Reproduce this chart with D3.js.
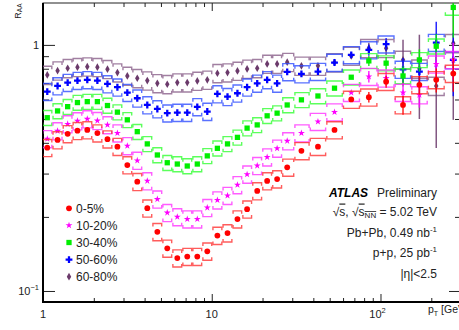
<!DOCTYPE html>
<html>
<head>
<meta charset="utf-8">
<script src="https://cdn.jsdelivr.net/npm/d3@7"></script>
<style>
    body { margin: 0; background: #fff; }
    svg { display: block; font-family: "Liberation Sans", Arial, sans-serif; }
</style>
</head>
<body>
<div id="chart"></div>
<script>
// bin centres in pT [GeV]
const pt = [1.06, 1.22, 1.40, 1.60, 1.83, 2.10, 2.41, 2.76, 3.16, 3.62, 4.15, 4.76, 5.45, 6.25, 7.16,
    8.21, 9.41, 10.8, 12.4, 14.2, 16.2, 18.6, 21.3, 24.4, 28.0, 34.0, 42.6, 53.4, 67.1, 85.3,
    108, 136, 170, 214, 270];

const centralities = ["0-5%", "10-20%", "30-40%", "50-60%", "60-80%"];

const raa0_5 = [0.382, 0.411, 0.435, 0.448, 0.451, 0.438, 0.414, 0.386, 0.325, 0.278, 0.217, 0.174, 0.149, 0.136, 0.138,
    0.138, 0.145, 0.168, 0.172, 0.196, 0.215, 0.255, 0.280, 0.285, 0.318, 0.371, 0.386, 0.451, 0.600, 0.613,
    0.709, 0.570, 0.688, 0.721, 0.765];
const raa10_20 = [0.415, 0.447, 0.477, 0.491, 0.500, 0.492, 0.473, 0.438, 0.389, 0.339, 0.280, 0.236, 0.208, 0.200, 0.196,
    0.196, 0.218, 0.234, 0.244, 0.270, 0.298, 0.323, 0.350, 0.380, 0.407, 0.438, 0.488, 0.533, 0.640, 0.743,
    0.732, 0.640, 0.626, 0.835, 0.870];
const raa30_40 = [0.506, 0.539, 0.561, 0.583, 0.588, 0.588, 0.567, 0.533, 0.496, 0.444, 0.396, 0.357, 0.332, 0.328, 0.322,
    0.328, 0.354, 0.380, 0.396, 0.421, 0.459, 0.473, 0.515, 0.528, 0.570, 0.598, 0.620, 0.667, 0.739, 0.861,
    0.843, 0.748, 0.869, 0.988, 1.42];
const raa50_60 = [0.646, 0.681, 0.703, 0.716, 0.721, 0.716, 0.694, 0.673, 0.640, 0.607, 0.570, 0.549, 0.528, 0.531, 0.531,
    0.560, 0.536, 0.632, 0.616, 0.636, 0.673, 0.698, 0.721, 0.698, 0.777, 0.762, 0.779, 0.848, 0.911, 0.954,
    1.007, 0.795, 0.779, 1.022, 0.869];
const raa60_80 = [0.755, 0.786, 0.804, 0.812, 0.816, 0.812, 0.797, 0.772, 0.748, 0.732, 0.716, 0.698, 0.692, 0.703, 0.703,
    0.714, 0.721, 0.767, 0.772, 0.784, 0.799, 0.804, 0.837, 0.837, 0.851, 0.822, 0.822, 0.848, 0.902, 0.970,
    0.970, 0.869, 0.800, 0.681, 1.016];

// relative systematic uncertainty per centrality
const sysFrac = [0.08, 0.08, 0.07, 0.08, 0.085];

// statistical errors (absolute) of the last six bins, the only ones bigger than a marker
const stat0_5 = [0.03, 0.04, 0.05, 0.06, 0.08, 0.12];
const stat10_20 = [0.04, 0.05, 0.06, 0.07, 0.10, 0.15];
const stat30_40 = [0.04, 0.05, 0.07, 0.09, 0.12, 0.35];
const stat50_60 = [0.05, 0.06, 0.09, 0.10, 0.22, 0.25];
const stat60_80 = [0.05, 0.06, 0.18, 0.30, 0.30, 0.52];

const xMajor = [1, 10, 100];
const xMinor = [2, 3, 4, 5, 6, 7, 8, 9, 20, 30, 40, 50, 60, 70, 80, 90, 200, 300];
const yMajor = [0.1, 1];
const yMinor = [0.2, 0.3, 0.4, 0.5, 0.6, 0.7, 0.8, 0.9];

const frame = { width: 459, height: 330, left: 43, right: 461, top: 3, bottom: 302 };

const x = d3.scaleLog().domain([1, 300]).range([frame.left, frame.right]);
const y = d3.scaleLog().domain([0.0902, 1.48]).range([frame.bottom, frame.top]);

const svg = d3.select("#chart")
    .append("svg")
    .attr("width", frame.width)
    .attr("height", frame.height);

svg.append("defs").append("clipPath")
    .attr("id", "plot-clip")
    .append("rect")
    .attr("x", frame.left)
    .attr("y", frame.top)
    .attr("width", frame.right - frame.left)
    .attr("height", frame.bottom - frame.top);

function drawAxes() {
    const tickColor = "#222";

    function styleAxis(g) {
        g.select(".domain").remove();
        g.selectAll("line").attr("stroke", tickColor);
        g.selectAll("text").remove();
    }

    svg.append("g").attr("transform", "translate(0," + frame.bottom + ")")
        .call(d3.axisBottom(x).tickValues(xMajor).tickSize(-8)).call(styleAxis);
    svg.append("g").attr("transform", "translate(0," + frame.bottom + ")")
        .call(d3.axisBottom(x).tickValues(xMinor).tickSize(-4)).call(styleAxis);
    svg.append("g").attr("transform", "translate(0," + frame.top + ")")
        .call(d3.axisTop(x).tickValues(xMajor).tickSize(-8)).call(styleAxis);
    svg.append("g").attr("transform", "translate(0," + frame.top + ")")
        .call(d3.axisTop(x).tickValues(xMinor).tickSize(-4)).call(styleAxis);

    svg.append("g").attr("transform", "translate(" + frame.left + ",0)")
        .call(d3.axisLeft(y).tickValues(yMajor).tickSize(-12)).call(styleAxis);
    svg.append("g").attr("transform", "translate(" + frame.left + ",0)")
        .call(d3.axisLeft(y).tickValues(yMinor).tickSize(-6)).call(styleAxis);
    svg.append("g").attr("transform", "translate(" + frame.right + ",0)")
        .call(d3.axisRight(y).tickValues(yMajor).tickSize(-12)).call(styleAxis);
    svg.append("g").attr("transform", "translate(" + frame.right + ",0)")
        .call(d3.axisRight(y).tickValues(yMinor).tickSize(-6)).call(styleAxis);

    // frame
    svg.append("rect")
        .attr("x", frame.left).attr("y", frame.top)
        .attr("width", frame.right - frame.left).attr("height", frame.bottom - frame.top)
        .attr("fill", "none").attr("stroke", tickColor).attr("stroke-width", 1);
    svg.append("path")
        .attr("d", "M" + frame.left + "," + frame.top + "V" + frame.bottom + "H" + frame.right)
        .attr("fill", "none").attr("stroke", "#000").attr("stroke-width", 2);

    // x tick labels: 1, 10, 10^2
    xMajor.forEach(v => {
        const exp = Math.round(Math.log10(v));
        const t = svg.append("text")
            .attr("y", frame.bottom + 15.5)
            .attr("font-size", 11)
            .attr("fill", "#222")
            .attr("text-anchor", "middle");
        if (exp < 2) {
            t.attr("x", x(v)).text(String(v));
        } else {
            t.attr("x", x(v) - 3);
            t.append("tspan").text("10");
            t.append("tspan").attr("font-size", 7.5).attr("dy", -4.5).text(String(exp));
        }
    });

    // y tick labels: 10^-1, 1
    yMajor.forEach(v => {
        const exp = Math.round(Math.log10(v));
        const t = svg.append("text")
            .attr("x", frame.left - 4)
            .attr("y", y(v) + 4)
            .attr("font-size", 11)
            .attr("fill", "#222")
            .attr("text-anchor", "end");
        if (exp === 0) {
            t.text("1");
        } else {
            t.append("tspan").text("10");
            t.append("tspan").attr("font-size", 7.5).attr("dy", -4.5).text("\u2212" + Math.abs(exp));
        }
    });

    // axis titles
    const yTitle = svg.append("text")
        .attr("transform", "translate(20.5," + (frame.top + 0.5) + ") rotate(-90)")
        .attr("text-anchor", "end")
        .attr("font-size", 9)
        .attr("fill", "#222");
    yTitle.append("tspan").text("R");
    yTitle.append("tspan").attr("font-size", 6.5).attr("dy", 1.5).text("AA");

    // the title runs past the right edge, as in the original figure
    const xTitle = svg.append("text")
        .attr("x", 428)
        .attr("y", frame.bottom + 11)
        .attr("font-size", 10.5)
        .attr("fill", "#222");
    xTitle.append("tspan").text("p");
    xTitle.append("tspan").attr("font-size", 7).attr("dy", 3).text("T");
    xTitle.append("tspan").attr("dy", -3).text(" [GeV]");
}

function drawSeries(s) {
    const g = svg.append("g").attr("clip-path", "url(#plot-clip)");
    const px = pt.map(p => x(p));
    const nStat = s.stat.length;
    const tick = 3;

    s.values.forEach((v, i) => {
        const left = i > 0 ? (px[i - 1] + px[i]) / 2 : px[i] - (px[1] - px[0]) / 2;
        const right = i < px.length - 1 ? (px[i] + px[i + 1]) / 2 : px[i] + (px[i] - px[i - 1]) / 2;
        const x0 = left + 0.6, x1 = right - 0.6;
        const yTop = y(v * (1 + s.sys));
        const yBot = y(v * (1 - s.sys));

        g.append("path")
            .attr("d", "M" + x0 + "," + (yTop + tick) + "V" + yTop + "H" + x1 + "V" + (yTop + tick)
                + "M" + x0 + "," + (yBot - tick) + "V" + yBot + "H" + x1 + "V" + (yBot - tick))
            .attr("fill", "none")
            .attr("stroke", s.boxColor)
            .attr("stroke-width", 1.4)
            .attr("stroke-opacity", 0.8);

        const k = i - (pt.length - nStat);
        if (k >= 0) {
            const err = s.stat[k];
            const lo = Math.max(v - err, y.domain()[0]);
            g.append("line")
                .attr("x1", px[i]).attr("x2", px[i])
                .attr("y1", y(lo)).attr("y2", y(v + err))
                .attr("stroke", s.color)
                .attr("stroke-width", 1.5)
                .attr("stroke-opacity", 0.85);
        }
    });

    g.selectAll("path.marker")
        .data(s.values)
        .join("path")
        .attr("class", "marker")
        .attr("transform", (v, i) => "translate(" + px[i] + "," + y(v) + ")")
        .attr("d", d3.symbol().type(s.symbol).size(s.size))
        .attr("fill", s.color);
}

const series = [
    { name: centralities[4], values: raa60_80, stat: stat60_80, sys: sysFrac[4], color: "#6b3a6b", boxColor: "#8a5f8a", symbol: d3.symbolDiamond, size: 17 },
    { name: centralities[3], values: raa50_60, stat: stat50_60, sys: sysFrac[3], color: "#0000ff", boxColor: "#2f4dff", symbol: d3.symbolCross, size: 26 },
    { name: centralities[2], values: raa30_40, stat: stat30_40, sys: sysFrac[2], color: "#00ee00", boxColor: "#33ff33", symbol: d3.symbolSquare, size: 28 },
    { name: centralities[1], values: raa10_20, stat: stat10_20, sys: sysFrac[1], color: "#ff00ff", boxColor: "#ff33ff", symbol: d3.symbolStar, size: 15 },
    { name: centralities[0], values: raa0_5, stat: stat0_5, sys: sysFrac[0], color: "#ff0000", boxColor: "#ff3333", symbol: d3.symbolCircle, size: 26 }
];

drawAxes();
series.forEach(drawSeries);

// legend
const legend = svg.append("g").attr("transform", "translate(69,208.3)");
series.slice().reverse().forEach((s, i) => {
    const row = legend.append("g").attr("transform", "translate(0," + (i * 17.1) + ")");
    row.append("path")
        .attr("d", d3.symbol().type(s.symbol).size(s.size))
        .attr("fill", s.color);
    row.append("text")
        .attr("x", 7)
        .attr("y", 4.3)
        .attr("font-size", 12)
        .attr("fill", "#222")
        .text(s.name);
});

// ATLAS label block
const labelRight = 437;
svg.append("text")
    .attr("x", 329).attr("y", 197)
    .attr("font-size", 12).attr("font-weight", "bold").attr("font-style", "italic")
    .attr("fill", "#000")
    .text("ATLAS");
svg.append("text")
    .attr("x", labelRight).attr("y", 197)
    .attr("font-size", 12).attr("text-anchor", "end").attr("fill", "#222")
    .text("Preliminary");

const energy = svg.append("text")
    .attr("x", labelRight).attr("y", 215.5)
    .attr("font-size", 12).attr("text-anchor", "end").attr("fill", "#222");
energy.append("tspan").text("\u221A");
energy.append("tspan").attr("text-decoration", "overline").text("s");
energy.append("tspan").text(", \u221A");
energy.append("tspan").attr("text-decoration", "overline").text("s");
energy.append("tspan").attr("font-size", 8).attr("dy", 2.5).attr("text-decoration", "overline").text("NN");
energy.append("tspan").attr("dy", -2.5).text(" = 5.02 TeV");

const pbpb = svg.append("text")
    .attr("x", labelRight).attr("y", 236.5)
    .attr("font-size", 12).attr("text-anchor", "end").attr("fill", "#222");
pbpb.append("tspan").text("Pb+Pb, 0.49 nb");
pbpb.append("tspan").attr("font-size", 8).attr("dy", -5).text("-1");

const pp = svg.append("text")
    .attr("x", labelRight).attr("y", 257)
    .attr("font-size", 12).attr("text-anchor", "end").attr("fill", "#222");
pp.append("tspan").text("p+p, 25 pb");
pp.append("tspan").attr("font-size", 8).attr("dy", -5).text("-1");

svg.append("text")
    .attr("x", labelRight).attr("y", 277.5)
    .attr("font-size", 12).attr("text-anchor", "end").attr("fill", "#222")
    .text("|\u03B7|<2.5");
</script>
</body>
</html>
